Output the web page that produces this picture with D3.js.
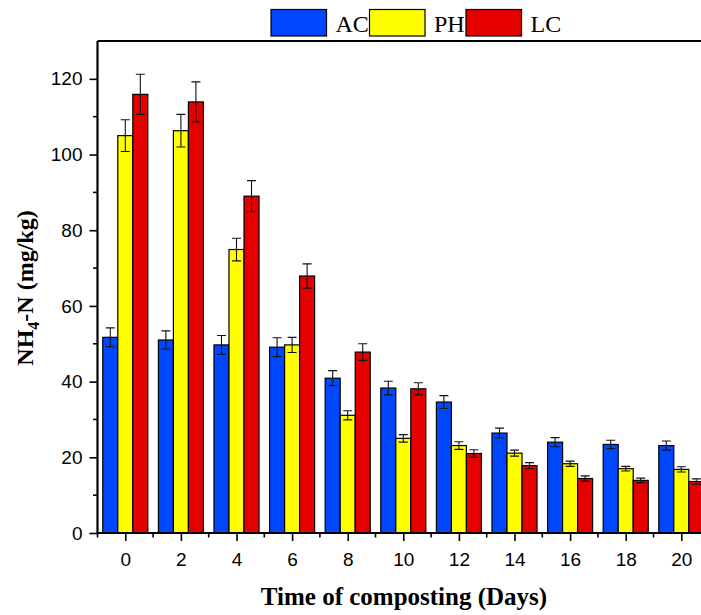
<!DOCTYPE html>
<html>
<head>
<meta charset="utf-8">
<script src="https://cdn.jsdelivr.net/npm/d3@7"></script>
<style>
  html, body { margin: 0; padding: 0; background: #fff; }
  svg { display: block; }
</style>
</head>
<body>
<svg id="chart" width="701" height="615"></svg>
<script>
// Composting time (days) and NH4-N content for each treatment
const days = [0, 2, 4, 6, 8, 10, 12, 14, 16, 18, 20];
const seriesNames = ["AC", "PH", "LC"];
const acValues = [51.7, 51.0, 49.7, 49.1, 40.9, 38.3, 34.6, 26.4, 24.0, 23.4, 23.1];
const phValues = [105.0, 106.3, 74.9, 49.7, 31.1, 25.0, 23.1, 21.1, 18.3, 17.0, 16.8];
const lcValues = [115.9, 113.9, 89.0, 67.9, 47.8, 38.1, 21.0, 17.8, 14.4, 13.9, 13.6];
const acErrors = [2.5, 2.4, 2.5, 2.5, 2.0, 1.8, 1.7, 1.3, 1.2, 1.1, 1.2];
const phErrors = [4.2, 4.3, 3.0, 2.0, 1.2, 1.0, 1.0, 0.8, 0.7, 0.6, 0.7];
const lcErrors = [5.3, 5.3, 4.1, 3.2, 2.2, 1.6, 1.0, 0.8, 0.7, 0.6, 0.7];
const yTicks = [0, 20, 40, 60, 80, 100, 120];
const colors = ["#0048ff", "#ffff00", "#e50000"];

const svg = d3.select("#chart");
const W = 701, H = 615;
const plotLeft = 97.5, plotBottom = 533, plotTop = 41;

const x = d3.scaleLinear().domain([-1, 21]).range([plotLeft, plotLeft + 22 * 27.8]);
const y = d3.scaleLinear().domain([0, 130]).range([plotBottom, plotTop]);

const barW = x(0.54) - x(0);      // width of one bar in a group
const offsets = [-1, 0, 1];       // bar position within a group, in bar widths

const series = seriesNames.map((name, i) => ({
  name,
  color: colors[i],
  values: [acValues, phValues, lcValues][i],
  errors: [acErrors, phErrors, lcErrors][i]
}));

svg.append("rect").attr("width", W).attr("height", H).attr("fill", "#fff");

const plot = svg.append("g");

// bars
series.forEach((s, si) => {
  const g = plot.append("g");
  g.selectAll("rect")
    .data(days.map((d, i) => ({ d, v: s.values[i], e: s.errors[i] })))
    .join("rect")
    .attr("x", p => x(p.d) + offsets[si] * barW - barW / 2)
    .attr("y", p => y(p.v))
    .attr("width", barW)
    .attr("height", p => y(0) - y(p.v))
    .attr("fill", s.color)
    .attr("stroke", "#000")
    .attr("stroke-width", 1.2);

  // error bars
  const eg = plot.append("g").attr("stroke", "#111").attr("stroke-width", 1.1).attr("fill", "none");
  days.forEach((d, i) => {
    const cx = x(d) + offsets[si] * barW;
    const hi = y(s.values[i] + s.errors[i]);
    const lo = y(s.values[i] - s.errors[i]);
    const cap = 4.5;
    eg.append("path")
      .attr("d", `M${cx},${hi}V${lo}M${cx - cap},${hi}H${cx + cap}M${cx - cap},${lo}H${cx + cap}`);
  });
});

// axes
const fontAxis = "'Liberation Sans', Arial, sans-serif";
const xAxis = d3.axisBottom(x)
  .tickValues(days)
  .tickSize(8)
  .tickSizeOuter(0)
  .tickFormat(d3.format("d"));
const gx = svg.append("g").attr("transform", `translate(0,${plotBottom})`).call(xAxis);
gx.select(".domain").remove();
gx.selectAll(".tick line").attr("stroke", "#000").attr("stroke-width", 1.6);
gx.selectAll(".tick text")
  .attr("font-family", fontAxis).attr("font-size", 19).attr("fill", "#000")
  .attr("dy", 0).attr("y", 33);

// minor x ticks at odd days
const xMinor = d3.range(-1, 22, 2);
svg.append("g").selectAll("line").data(xMinor).join("line")
  .attr("x1", d => x(d)).attr("x2", d => x(d))
  .attr("y1", plotBottom).attr("y2", plotBottom + 4.5)
  .attr("stroke", "#000").attr("stroke-width", 1.6);

const yAxis = d3.axisLeft(y)
  .tickValues(yTicks)
  .tickSize(8)
  .tickSizeOuter(0)
  .tickPadding(7);
const gy = svg.append("g").attr("transform", `translate(${plotLeft},0)`).call(yAxis);
gy.select(".domain").remove();
gy.selectAll(".tick line").attr("stroke", "#000").attr("stroke-width", 1.6);
gy.selectAll(".tick text")
  .attr("font-family", fontAxis).attr("font-size", 19).attr("fill", "#000");

// minor y ticks
const yMinor = d3.range(10, 130, 20);
svg.append("g").selectAll("line").data(yMinor).join("line")
  .attr("x1", plotLeft - 4.5).attr("x2", plotLeft)
  .attr("y1", d => y(d)).attr("y2", d => y(d))
  .attr("stroke", "#000").attr("stroke-width", 1.6);

// frame lines
svg.append("line").attr("x1", plotLeft).attr("x2", W).attr("y1", plotBottom).attr("y2", plotBottom)
  .attr("stroke", "#000").attr("stroke-width", 2.2);
svg.append("line").attr("x1", plotLeft).attr("x2", plotLeft).attr("y1", plotTop).attr("y2", plotBottom + 1)
  .attr("stroke", "#000").attr("stroke-width", 2.2);
svg.append("line").attr("x1", plotLeft).attr("x2", W).attr("y1", plotTop).attr("y2", plotTop)
  .attr("stroke", "#000").attr("stroke-width", 2);

// axis titles
const fontTitle = "'Liberation Serif', 'Times New Roman', serif";
svg.append("text")
  .attr("x", 404).attr("y", 605)
  .attr("text-anchor", "middle")
  .attr("font-family", fontTitle).attr("font-weight", "bold").attr("font-size", 25)
  .text("Time of composting (Days)");

const yt = svg.append("text")
  .attr("transform", "translate(33,288) rotate(-90)")
  .attr("text-anchor", "middle")
  .attr("font-family", fontTitle).attr("font-weight", "bold").attr("font-size", 24);
yt.append("tspan").text("NH");
yt.append("tspan").attr("font-size", 16).attr("dy", 6).text("4");
yt.append("tspan").attr("dy", -6).text("-N (mg/kg)");

// legend
const legendX = [271, 369.5, 466];
const lg = svg.append("g");
series.forEach((s, i) => {
  lg.append("rect")
    .attr("x", legendX[i]).attr("y", 9.5)
    .attr("width", 55.5).attr("height", 26.5)
    .attr("fill", s.color).attr("stroke", "#000").attr("stroke-width", 1.2);
  lg.append("text")
    .attr("x", legendX[i] + 64.5).attr("y", 32)
    .attr("font-family", fontTitle).attr("font-size", 24)
    .text(s.name);
});
</script>
</body>
</html>
